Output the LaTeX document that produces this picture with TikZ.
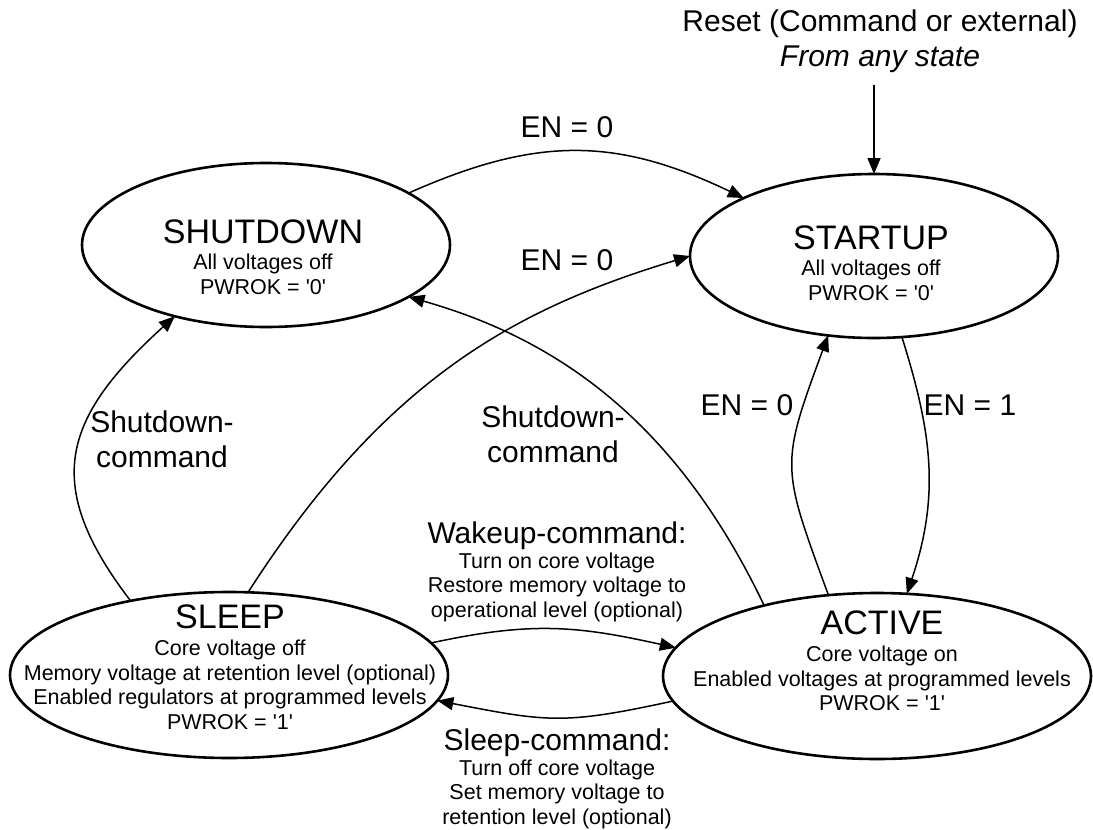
\documentclass[tikz,border=0pt]{standalone}
\usepackage{fontspec}
\setmainfont{Liberation Sans}
\usetikzlibrary{shapes.geometric,arrows.meta}
\newcommand{\sq}{\textquotesingle}
\begin{document}
\begin{tikzpicture}[x=1pt,y=-1pt,
  state/.style={ellipse, draw, line width=2.6pt, inner sep=0pt, outer sep=0pt},
  stxt/.style={anchor=north, inner sep=0pt, align=center, font=\fontsize{21.5}{24.6}\selectfont},
  trtxt/.style={anchor=north, inner sep=0pt, align=center, font=\fontsize{21.5}{24.5}\selectfont},
  lbl/.style={inner sep=0pt, align=center, font=\fontsize{30}{35}\selectfont},
  tr/.style={line width=1.5pt, -{Triangle[length=16pt,width=13pt]}},
]
\useasboundingbox (0,0) rectangle (1093,830);

% states
\node[state, minimum width=368pt, minimum height=164pt] (sd) at (266,245) {};
\node[state, minimum width=368pt, minimum height=164pt] (su) at (874,256) {};
\node[state, minimum width=438pt, minimum height=166pt] (sl) at (229,675) {};
\node[state, minimum width=428pt, minimum height=166pt] (ac) at (877,676) {};

\node[stxt] (sdt) at (263,220) {{\fontsize{34}{34}\selectfont SHUTDOWN}\\[1pt] All voltages off\\ PWROK = \sq0\sq};
\node[stxt] (sut) at (871,226) {{\fontsize{34}{34}\selectfont STARTUP}\\[1pt] All voltages off\\ PWROK = \sq0\sq};
\node[stxt] (slt) at (230,605) {{\fontsize{34}{34}\selectfont SLEEP}\\[2pt] Core voltage off\\ Memory voltage at retention level (optional)\\ Enabled regulators at programmed levels\\ PWROK = \sq1\sq};
\node[stxt] (act) at (882,611) {{\fontsize{34}{34}\selectfont ACTIVE}\\[2pt] Core voltage on\\ Enabled voltages at programmed levels\\ PWROK = \sq1\sq};

% reset
\node[lbl, anchor=north] (rst) at (880,10) {Reset (Command or external)\\ \textit{From any state}};
\coordinate (rs0) at (874,85);
\draw[tr] (rs0) -- (su.north);

% transitions
\draw[tr] (sd.20) .. controls (537,136) and (616,137) .. (su.156);
\draw[tr] (sl.77) .. controls (385,379) and (515,309) .. (su.west);
\draw[tr] (ac.148) .. controls (676,421) and (557,339) .. (sd.340);
\draw[tr] (sl.143) .. controls (41.5,484.5) and (62,418.5) .. (sd.218);
\draw[tr] (su.289) .. controls (932,433) and (940,495) .. (ac.70);
\draw[tr] (ac.121) .. controls (781,466) and (780,466) .. (su.240);
\draw[tr] (sl.9) .. controls (532,621) and (578,626) .. (ac.172);
\draw[tr] (ac.187) .. controls (563,725) and (548,722) .. (sl.353);

% labels
\node[lbl] (l1) at (567,127) {EN = 0};
\node[lbl] (l2) at (567,260) {EN = 0};
\node[lbl] (l3) at (747,405) {EN = 0};
\node[lbl] (l4) at (970,405) {EN = 1};
\node[lbl, anchor=north] (l5) at (162,411) {Shutdown-\\command};
\node[lbl, anchor=north] (l6) at (553,406) {Shutdown-\\command};
\node[trtxt] (l7) at (557,522) {{\fontsize{30}{30}\selectfont Wakeup-command:}\\ Turn on core voltage\\ Restore memory voltage to\\ operational level (optional)};
\node[trtxt] (l8) at (557,729) {{\fontsize{30}{30}\selectfont Sleep-command:}\\ Turn off core voltage\\ Set memory voltage to\\ retention level (optional)};
\end{tikzpicture}
\end{document}
